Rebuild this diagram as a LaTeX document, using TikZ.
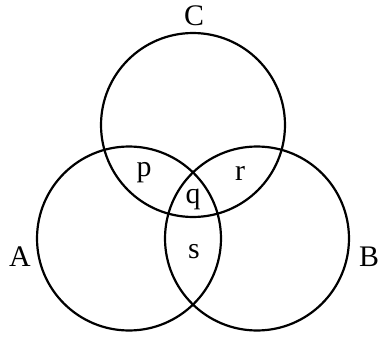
\documentclass[tikz,border=0pt]{standalone}
\usepackage{fontspec}
\setmainfont{Liberation Serif}
\begin{document}
\begin{tikzpicture}[x=0.02cm, y=-0.02cm, set/.style={line width=1.25pt}, lbl/.style={font=\fontsize{17}{20}\selectfont, inner sep=0pt}]
	\useasboundingbox (0,0) rectangle (382,338);
	% the three sets
	\draw[set] (129,238.5) circle[radius=1.84cm];
	\draw[set] (257,238.5) circle[radius=1.84cm];
	\draw[set] (193,125) circle[radius=1.84cm];
	% names of the sets
	\node[lbl] (labC) at (194,16) {C};
	\node[lbl] (labA) at (20,257) {A};
	\node[lbl] (labB) at (369,257) {B};
	% regions
	\node[lbl] (regp) at (144,173) {p};
	\node[lbl] (regr) at (240,173) {r};
	\node[lbl] (regq) at (193,199) {q};
	\node[lbl] (regs) at (194,252) {s};
\end{tikzpicture}
\end{document}
